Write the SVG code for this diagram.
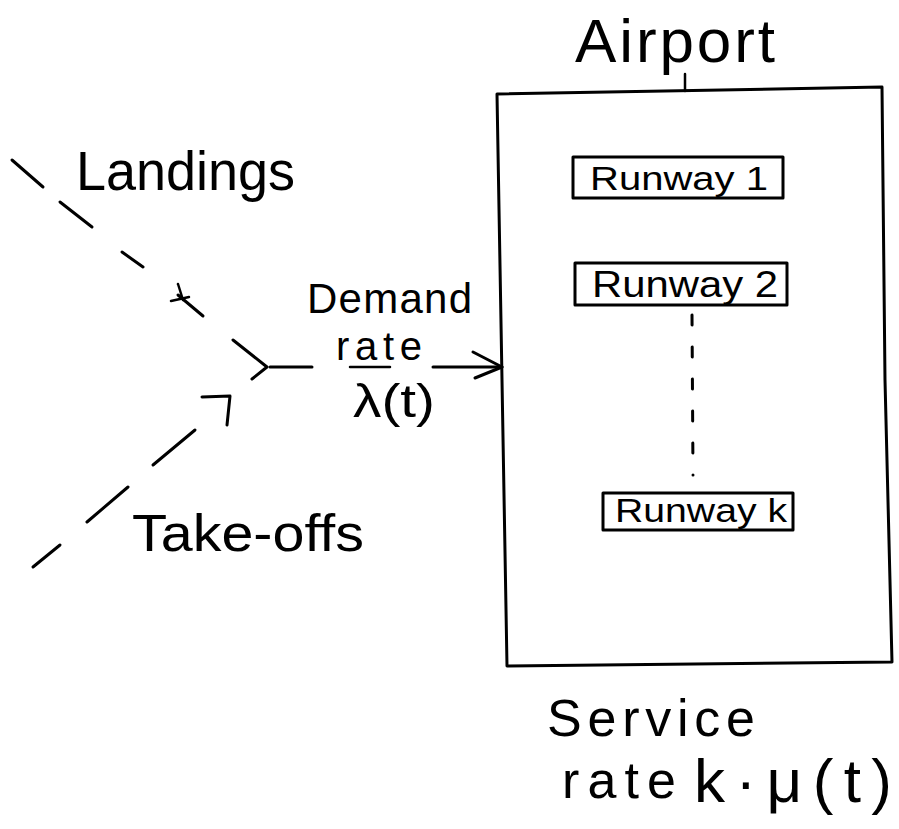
<svg xmlns="http://www.w3.org/2000/svg" width="899" height="829" viewBox="0 0 899 829">
  <style>
    .ink { fill: none; stroke: #000; stroke-width: 3; stroke-linecap: round; stroke-linejoin: round; }
    .thin { fill: none; stroke: #000; stroke-width: 2.5; stroke-linecap: round; }
    .hand { font-family: "Liberation Sans", "DejaVu Sans", sans-serif; fill: #000; }
  </style>
  <rect width="899" height="829" fill="#fff"/>

  <!-- Airport system box with its title -->
  <g id="airport">
    <text class="hand" x="575" y="62" font-size="62" textLength="200" lengthAdjust="spacing">Airport</text>
    <line class="thin" x1="685" y1="74" x2="685" y2="91"/>
    <polygon class="ink" points="497,94 882,87 885,380 892,662 507,666"/>
  </g>

  <!-- Runways inside the airport -->
  <g id="runway1">
    <rect class="ink" x="573" y="157" width="210" height="41"/>
    <text class="hand" x="590" y="190" font-size="34" textLength="178" lengthAdjust="spacingAndGlyphs">Runway 1</text>
  </g>
  <g id="runway2">
    <rect class="ink" x="575" y="263" width="212" height="42"/>
    <text class="hand" x="592" y="297" font-size="36" textLength="186" lengthAdjust="spacingAndGlyphs">Runway 2</text>
  </g>
  <g id="runwayk">
    <rect class="ink" x="603" y="493" width="190" height="37"/>
    <text class="hand" x="615" y="522" font-size="34" textLength="172" lengthAdjust="spacingAndGlyphs">Runway k</text>
  </g>

  <!-- Flow labels -->
  <g id="landings">
    <text class="hand" x="76" y="190" font-size="56" textLength="219" lengthAdjust="spacingAndGlyphs">Landings</text>
  </g>
  <g id="takeoffs">
    <text class="hand" x="132" y="551" font-size="52" textLength="232" lengthAdjust="spacingAndGlyphs">Take-offs</text>
  </g>
  <g id="demand">
    <text class="hand" x="307" y="313" font-size="42" textLength="165" lengthAdjust="spacing">Demand</text>
    <text class="hand" x="336" y="360" font-size="40" textLength="86" lengthAdjust="spacing">rate</text>
    <line class="thin" x1="350" y1="367" x2="390" y2="367"/>
    <text class="hand" x="353" y="417" font-size="46" textLength="82" lengthAdjust="spacingAndGlyphs">λ(t)</text>
  </g>
  <g id="service">
    <text class="hand" x="547" y="736" font-size="52" textLength="208" lengthAdjust="spacing">Service</text>
    <text class="hand" x="562" y="798" font-size="52" textLength="114" lengthAdjust="spacing">rate</text>
    <text class="hand" x="694" y="802" font-size="62" textLength="198" lengthAdjust="spacing">k·μ(t)</text>
  </g>

  <!-- Connectors -->
  <g id="connectors">
    <!-- landings stream (dashed) -->
    <line class="ink" x1="12" y1="160" x2="43" y2="187"/>
    <line class="ink" x1="60" y1="202" x2="92" y2="227"/>
    <line class="ink" x1="122" y1="252" x2="143" y2="267"/>
    <line class="ink" x1="178" y1="295" x2="203" y2="316"/>
    <line class="thin" x1="171" y1="301" x2="189" y2="297"/>
    <line class="thin" x1="178" y1="284" x2="183" y2="300"/>
    <!-- take-offs stream (dashed) -->
    <line class="ink" x1="33" y1="567" x2="60" y2="545"/>
    <line class="ink" x1="87" y1="522" x2="128" y2="487"/>
    <line class="ink" x1="153" y1="465" x2="195" y2="430"/>
    <polyline class="ink" points="202,397 230,396 227,425"/>
    <!-- merge point and demand arrow into the airport -->
    <polyline class="ink" points="233,340 267,367 252,379"/>
    <line class="ink" x1="270" y1="367" x2="312" y2="367"/>
    <line class="ink" x1="433" y1="367" x2="502" y2="367"/>
    <polyline class="ink" points="473,352 502,367 475,378"/>
    <!-- runway 2 ... runway k -->
    <line class="ink" x1="692" y1="315" x2="693" y2="475" stroke-dasharray="10 22"/>
  </g>
</svg>
